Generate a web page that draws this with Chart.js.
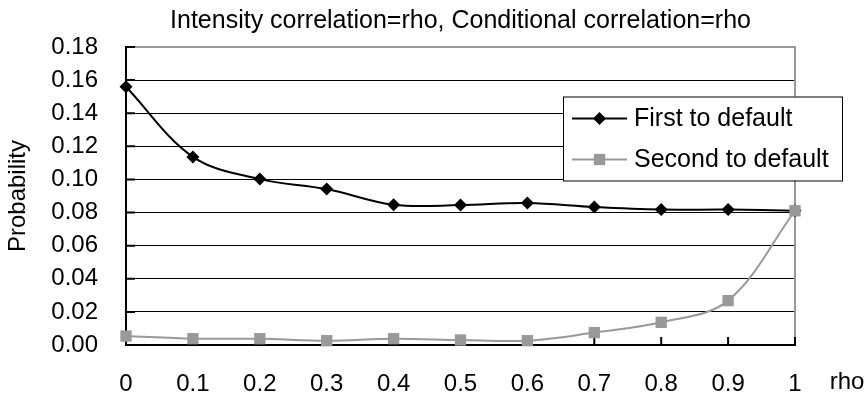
<!DOCTYPE html>
<html>
<head>
<meta charset="utf-8">
<script src="https://cdn.jsdelivr.net/npm/chart.js@4.4.0/dist/chart.umd.min.js"></script>
<style>
  html, body { margin: 0; padding: 0; background: #fff; }
  #wrap { width: 867px; height: 396px; }
</style>
</head>
<body>
<div id="wrap"><canvas id="chart" width="867" height="396"></canvas></div>
<script>
// DATA
const rhoLabels = ['0', '0.1', '0.2', '0.3', '0.4', '0.5', '0.6', '0.7', '0.8', '0.9', '1'];
const firstToDefault = [0.156, 0.1136, 0.1002, 0.0942, 0.0847, 0.0845, 0.0857, 0.0833, 0.0818, 0.0818, 0.0811];
const secondToDefault = [0.0054, 0.0038, 0.0038, 0.0026, 0.0038, 0.0030, 0.0026, 0.0075, 0.0137, 0.0268, 0.0811];
const yMin = 0, yMax = 0.18, yStep = 0.02;
const chartTitle = 'Intensity correlation=rho, Conditional correlation=rho';
const xTitle = 'rho';
const yTitle = 'Probability';

const FONT = 'Arial, "Liberation Sans", sans-serif';
const GRAY = '#999999';
Chart.defaults.font.family = FONT;
Chart.defaults.color = '#000';

function drawMarker(ctx, style, x, y, r, color) {
    ctx.fillStyle = color;
    ctx.beginPath();
    if (style === 'rectRot') {
        ctx.moveTo(x - r, y); ctx.lineTo(x, y - r); ctx.lineTo(x + r, y); ctx.lineTo(x, y + r);
    } else {
        const s = r * Math.SQRT1_2;
        ctx.rect(x - s, y - s, 2 * s, 2 * s);
    }
    ctx.closePath();
    ctx.fill();
}

// frame, inner ticks, title, axis label and boxed legend
const excelLook = {
    id: 'excelLook',
    beforeDatasetsDraw(chart) {
        const { ctx, chartArea: a, scales: { x, y } } = chart;
        ctx.save();
        ctx.strokeStyle = GRAY; ctx.lineWidth = 2;
        ctx.beginPath();
        ctx.moveTo(a.left, a.top); ctx.lineTo(a.right, a.top); ctx.lineTo(a.right, a.bottom);
        ctx.stroke();
        ctx.strokeStyle = '#000';
        ctx.beginPath();
        x.ticks.forEach((t, i) => { const px = x.getPixelForTick(i); ctx.moveTo(px, a.bottom); ctx.lineTo(px, a.bottom - 8); });
        y.ticks.forEach((t, i) => { const py = y.getPixelForTick(i); ctx.moveTo(a.left, py); ctx.lineTo(a.left + 9, py); });
        ctx.stroke();
        ctx.restore();
    },
    afterDraw(chart) {
        const { ctx, chartArea: a } = chart;
        ctx.save();
        ctx.fillStyle = '#000';
        ctx.textBaseline = 'middle';
        ctx.textAlign = 'center';
        ctx.font = '25px ' + FONT;
        ctx.fillText(chartTitle, (a.left + a.right) / 2, 21);
        ctx.font = '24px ' + FONT;
        ctx.fillText(xTitle, a.right + 52, a.bottom + 37);

        // legend box
        const bx = a.right - 232, by = a.top + 49.5, bw = 279, bh = 84;
        ctx.fillStyle = '#fff';
        ctx.fillRect(bx, by, bw, bh);
        ctx.strokeStyle = '#000'; ctx.lineWidth = 1;
        ctx.strokeRect(bx + 0.5, by + 0.5, bw, bh);
        ctx.font = '25px ' + FONT;
        ctx.textAlign = 'left';
        chart.data.datasets.forEach((ds, i) => {
            const ry = by + 22 + i * 41;
            ctx.strokeStyle = ds.borderColor; ctx.lineWidth = 2;
            ctx.beginPath(); ctx.moveTo(bx + 9, ry); ctx.lineTo(bx + 64, ry); ctx.stroke();
            drawMarker(ctx, ds.pointStyle, bx + 36.5, ry, ds.pointRadius, ds.pointBackgroundColor);
            ctx.fillStyle = '#000';
            ctx.fillText(ds.label, bx + 71, ry + 1);
        });
        ctx.restore();
    }
};

new Chart(document.getElementById('chart'), {
    type: 'line',
    data: {
        labels: rhoLabels,
        datasets: [
            {
                label: 'First to default', data: firstToDefault, order: 1,
                borderColor: '#000', borderWidth: 2, tension: 0.35,
                pointStyle: 'rectRot', pointRadius: 6.5, pointBackgroundColor: '#000', pointBorderWidth: 0,
                clip: false
            },
            {
                label: 'Second to default', data: secondToDefault, order: 0,
                borderColor: GRAY, borderWidth: 2, tension: 0.35,
                pointStyle: 'rect', pointRadius: 8, pointBackgroundColor: GRAY, pointBorderWidth: 0,
                clip: false
            }
        ]
    },
    options: {
        responsive: false,
        animation: false,
        devicePixelRatio: 1,
        layout: { padding: { left: 0, right: 72, top: 47, bottom: 0 } },
        plugins: { legend: { display: false }, title: { display: false }, tooltip: { enabled: false } },
        scales: {
            x: {
                offset: false,
                grid: { display: false, drawTicks: false },
                border: { display: true, color: '#000', width: 2 },
                ticks: { font: { size: 24 }, padding: 25, maxRotation: 0, autoSkip: false },
                afterFit: s => { s.height = 51; }
            },
            y: {
                min: yMin, max: yMax,
                grid: { color: c => c.tick.value >= yMax - 1e-9 ? 'rgba(0,0,0,0)' : '#000', lineWidth: 1, drawTicks: false },
                border: { display: true, color: '#000', width: 2 },
                ticks: { stepSize: yStep, font: { size: 24 }, padding: 28, callback: v => v.toFixed(2) },
                title: { display: true, text: yTitle, font: { size: 24 }, padding: { top: 4, bottom: 0 } },
                afterFit: s => { s.width = 126; }
            }
        }
    },
    plugins: [excelLook]
});
</script>
</body>
</html>
